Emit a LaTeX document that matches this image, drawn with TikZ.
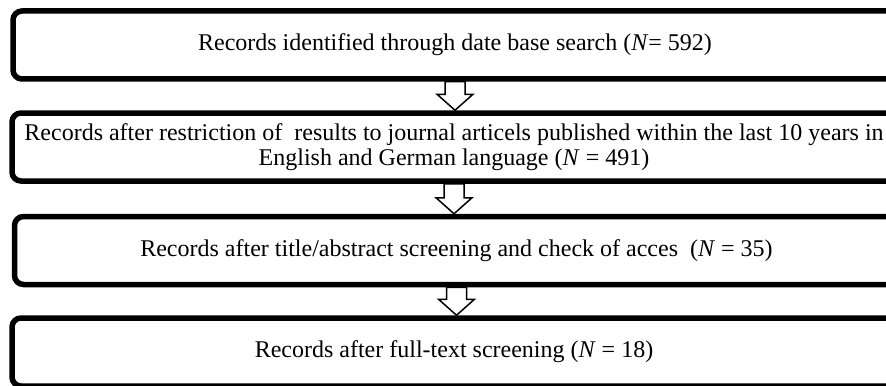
\documentclass[tikz,border=0pt]{standalone}
\usepackage{fontspec}
\setmainfont{Liberation Serif}
\usetikzlibrary{calc}

\begin{document}
\begin{tikzpicture}[x=0.5pt,y=-0.5pt,
  stagebox/.style={draw,line width=2.75pt,rounded corners=4.5pt,
    minimum width=442pt,minimum height=34pt,inner sep=0pt,align=center,
    font=\fontsize{12}{12.5}\selectfont},
  downarrow/.style={draw,line width=0.75pt,fill=white,line join=miter}]
\useasboundingbox (0,0) rectangle (886,385);

\node[stagebox] (b1) at (455,45)
  {Records identified through date base search (\textit{N}= 592)};
\node[stagebox] (b2) at (454,147)
  {Records after restriction of\ \ results to journal articels published within the last 10 years in\\
   English and German language (\textit{N} = 491)};
\node[stagebox] (b3) at (456.5,250.5)
  {Records after title/abstract screening and check of acces\ \ (\textit{N} = 35)};
\node[stagebox] (b4) at (454,352)
  {Records after full-text screening (\textit{N} = 18)};

\foreach \a/\b in {b1/b2,b2/b3,b3/b4}
  \draw[downarrow] ($(\a.south)+(-10,0)$) -- ($(\a.south)+(10,0)$)
    -- ($(\b.north -| \a.south)+(10,-16)$) -- ($(\b.north -| \a.south)+(18,-16)$)
    -- (\b.north -| \a.south)
    -- ($(\b.north -| \a.south)+(-18,-16)$) -- ($(\b.north -| \a.south)+(-10,-16)$) -- cycle;
\end{tikzpicture}
\end{document}
